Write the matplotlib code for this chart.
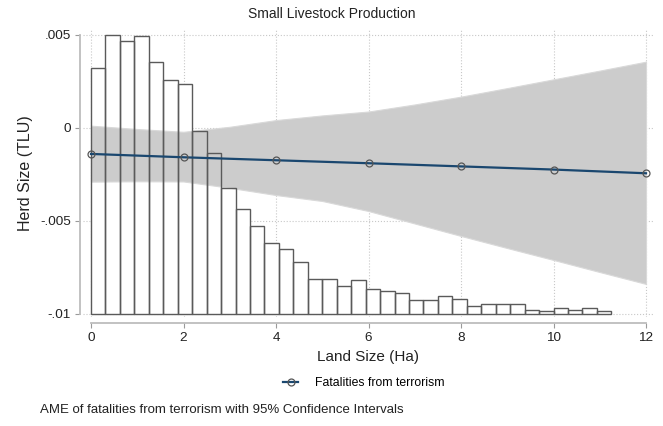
import numpy as np
import matplotlib
matplotlib.use('Agg')
import matplotlib.pyplot as plt
from matplotlib.lines import Line2D

plt.rcParams['font.family'] = ['Liberation Sans', 'DejaVu Sans']

# histogram of land size (bar tops, in herd-size axis units; bars start at -.01)
bin_width = 0.3125
bar_tops = [0.00320, 0.00496, 0.00466, 0.00493, 0.00352, 0.00258, 0.00235, -0.00017,
            -0.00135, -0.00322, -0.00436, -0.00526, -0.00621, -0.00654, -0.00724, -0.00815,
            -0.00815, -0.00851, -0.00818, -0.00867, -0.00878, -0.00886, -0.00928, -0.00928,
            -0.00905, -0.00919, -0.00959, -0.00946, -0.00946, -0.00946, -0.00978, -0.00988,
            -0.00970, -0.00982, -0.00970, -0.00988]
bar_base = -0.01

# margins at land size values
at_x = [0, 2, 4, 6, 8, 10, 12]
ame = [-0.00141, -0.00159, -0.00175, -0.00191, -0.00208, -0.00225, -0.00245]

# confidence band
ci_x = [0, 1, 2, 3, 4, 5, 6, 7, 8, 9, 10, 11, 12]
ci_upper = [0.00011, -0.00007, -0.00022, 0.00005, 0.00041, 0.00066, 0.00087, 0.00125,
            0.00167, 0.00213, 0.00260, 0.00307, 0.00355]
ci_lower = [-0.00290, -0.00288, -0.00289, -0.00323, -0.00362, -0.00394, -0.00448, -0.00515,
            -0.00582, -0.00647, -0.00711, -0.00776, -0.00840]

fig = plt.figure(figsize=(6.63, 4.26), dpi=100)
ax = fig.add_axes([83 / 663, 1 - 317 / 426, 570 / 663, 287 / 426])

left_edges = np.arange(len(bar_tops)) * bin_width
heights = np.array(bar_tops) - bar_base

ax.bar(left_edges, heights, width=bin_width, bottom=bar_base, align='edge',
       color='white', edgecolor='none', zorder=1)
ax.fill_between(ci_x, ci_lower, ci_upper, color='#cccccc', edgecolor='#d9d9d9',
                linewidth=0.8, zorder=2)
ax.bar(left_edges, heights, width=bin_width, bottom=bar_base, align='edge',
       fill=False, edgecolor='#5a5a5a', linewidth=1.0, zorder=3)
ax.plot(at_x, ame, color='#1a476f', linewidth=1.6, marker='o', markersize=5,
        markerfacecolor='none', markeredgecolor='#555555', markeredgewidth=0.9, zorder=4)

ax.set_xlim(-0.173, 12.151)
ax.set_ylim(-0.010177, 0.005253)
ax.set_xticks([0, 2, 4, 6, 8, 10, 12])
ax.set_xticklabels(['0', '2', '4', '6', '8', '10', '12'])
ax.set_yticks([-0.01, -0.005, 0, 0.005])
ax.set_yticklabels(['-.01', '-.005', '0', '.005'])
ax.grid(True, linestyle=':', color='#c8c8c8', linewidth=0.8, zorder=0)
ax.set_axisbelow(True)

for s in ['top', 'right']:
    ax.spines[s].set_visible(False)
ax.spines['left'].set_position(('outward', 2.2))
ax.spines['bottom'].set_position(('outward', 4.5))
ax.spines['left'].set_bounds(-0.01, 0.005)
ax.spines['bottom'].set_bounds(0, 12)
for s in ['left', 'bottom']:
    ax.spines[s].set_color('#bdbdbd')
    ax.spines[s].set_linewidth(1.3)
ax.tick_params(axis='both', length=3.6, width=0.8, color='#9a9a9a', labelsize=9.7,
               labelcolor='#222222', pad=3)

ax.set_xlabel('Land Size (Ha)', fontsize=11, color='#222222', labelpad=4)
ax.set_ylabel('Herd Size (TLU)', fontsize=11.5, color='#222222', labelpad=5)
fig.text(0.5, 1 - 14 / 426, 'Small Livestock Production', ha='center', va='center',
         fontsize=10, color='#222222')

handle = Line2D([], [], color='#1a476f', linewidth=1.6, marker='o', markersize=5,
                markerfacecolor='none', markeredgecolor='#555555', markeredgewidth=0.9)
fig.legend([handle], ['Fatalities from terrorism'], loc='center',
           bbox_to_anchor=(364 / 663, 1 - 383 / 426), frameon=False, fontsize=8.8,
           handlelength=1.2, handletextpad=1.4)

fig.text(40 / 663, 1 - 410 / 426, 'AME of fatalities from terrorism with 95% Confidence Intervals',
         ha='left', va='center', fontsize=9.5, color='#222222')

fig.savefig('out.png', dpi=100)
